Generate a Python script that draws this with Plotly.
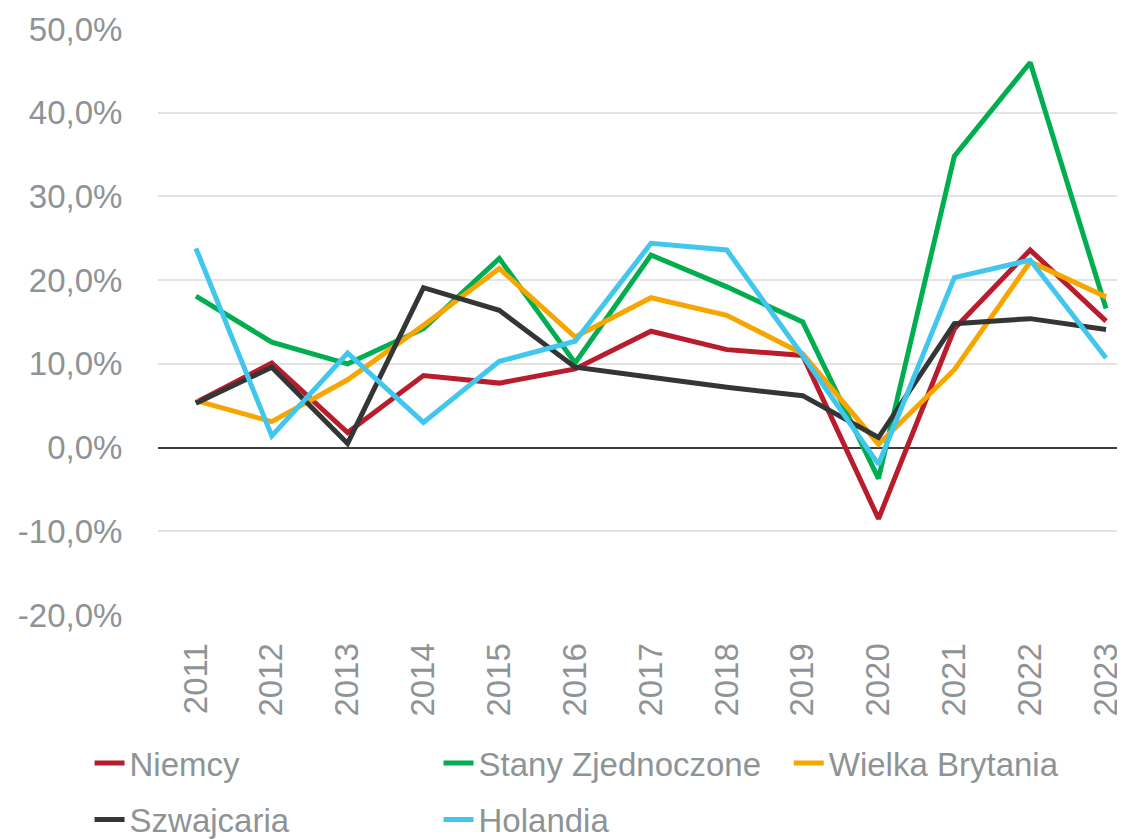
import plotly.graph_objects as go

years = [str(y) for y in range(2011, 2024)]

niemcy = [5.4, 10.1, 1.8, 8.6, 7.7, 9.4, 13.9, 11.7, 11.0, -8.5, 14.2, 23.6, 15.1]
stany = [18.1, 12.6, 10.0, 14.2, 22.6, 10.1, 23.0, 19.2, 15.0, -3.7, 34.8, 46.0, 16.6]
wielka_brytania = [5.6, 3.1, 8.1, 14.6, 21.4, 13.2, 17.9, 15.8, 11.2, 0.4, 9.3, 22.2, 18.0]
szwajcaria = [5.3, 9.6, 0.5, 19.1, 16.4, 9.6, 8.4, 7.2, 6.2, 1.2, 14.8, 15.4, 14.1]
holandia = [23.8, 1.4, 11.3, 3.0, 10.3, 12.7, 24.4, 23.6, 11.0, -2.0, 20.3, 22.4, 10.7]

tick_vals = [-20, -10, 0, 10, 20, 30, 40, 50]
tick_text = ["-20,0%", "-10,0%", "0,0%", "10,0%", "20,0%", "30,0%", "40,0%", "50,0%"]

# name, values, colour, legend box
series = [
    ("Niemcy", niemcy, "#B81C2D", "legend"),
    ("Stany Zjednoczone", stany, "#00AE4F", "legend"),
    ("Wielka Brytania", wielka_brytania, "#F7A600", "legend3"),
    ("Szwajcaria", szwajcaria, "#333536", "legend2"),
    ("Holandia", holandia, "#41C7EE", "legend2"),
]

GREY = "#8E9396"
FONT = "Liberation Sans, Arial, sans-serif"
FS = 33

fig = go.Figure()
for name, vals, color, leg in series:
    fig.add_trace(go.Scatter(
        x=years,
        y=vals,
        mode="lines",
        name=name,
        legend=leg,
        line=dict(color=color, width=5),
    ))

legend_common = dict(
    orientation="h",
    xref="container",
    yref="container",
    xanchor="left",
    yanchor="top",
    x=0.073,
    font=dict(family=FONT, size=FS, color=GREY),
    bgcolor="rgba(0,0,0,0)",
)

# page has an 8px body margin, so the figure is a bit smaller than the window
fig.update_layout(
    width=1117,
    height=831,
    margin=dict(l=150, r=0, t=21, b=224),
    plot_bgcolor="white",
    paper_bgcolor="white",
    font=dict(family=FONT, size=FS, color=GREY),
    legend=dict(legend_common, y=0.125, entrywidth=304),
    legend2=dict(legend_common, y=0.057, entrywidth=304),
    legend3=dict(legend_common, x=0.699, y=0.125),
)

fig.update_xaxes(
    type="category",
    range=[-0.5, 12.25],
    tickangle=-90,
    ticks="outside",
    ticklen=14,
    tickcolor="rgba(0,0,0,0)",
    showgrid=False,
    showline=False,
    zeroline=False,
)
fig.update_yaxes(
    range=[-20, 50],
    tickvals=tick_vals,
    ticktext=tick_text,
    ticks="outside",
    ticklen=28,
    tickcolor="rgba(0,0,0,0)",
    showgrid=True,
    gridcolor="#E3E3E3",
    gridwidth=2,
    zeroline=True,
    zerolinecolor="#3F3F3F",
    zerolinewidth=1.5,
    showline=False,
)

fig.write_html("out.html")
